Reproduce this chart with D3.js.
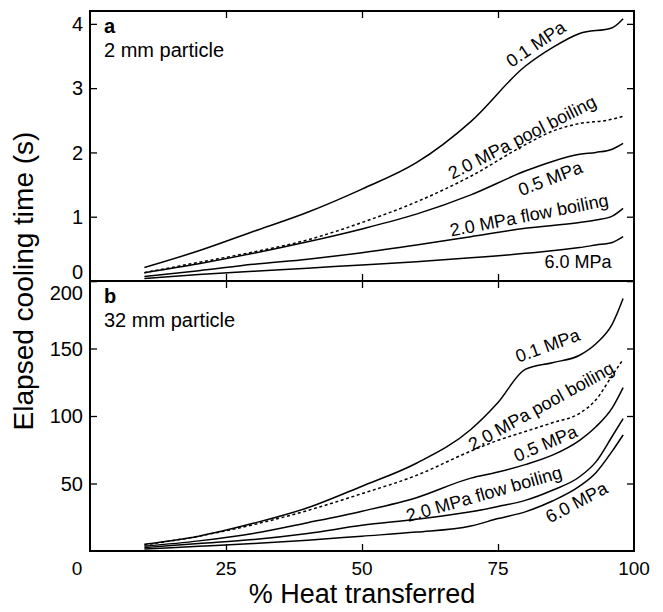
<!DOCTYPE html>
<meta charset="utf-8">
<style>
body { margin: 0; background: #fff; }
svg { font-family: "Liberation Sans", Arial, sans-serif; }
.frame { fill: none; stroke: #000; stroke-width: 2; }
.curve { fill: none; stroke: #000; stroke-width: 1.5; }
</style>
<body>
<script src="https://d3js.org/d3.v7.min.js"></script>
<script>

// ---- data ----
// % heat transferred, elapsed time. panel a in s, panel b in s
var heatTicks = [0, 25, 50, 75, 100];
var aTicks = [0, 1, 2, 3, 4];
var bTicks = [50, 100, 150, 200];   // the 0 is shared with the x axis

// panel a : 2 mm particle
var a01x   = [10, 20, 30, 40, 50, 60, 70, 80, 85, 90, 96, 98];
var a01y   = [0.21, 0.47, 0.77, 1.07, 1.43, 1.84, 2.48, 3.34, 3.63, 3.85, 3.94, 4.08];
var aPoolx = [10, 20, 30, 40, 50, 60, 70, 80, 85, 90, 95, 98];
var aPooly = [0.13, 0.29, 0.45, 0.64, 0.91, 1.23, 1.63, 2.12, 2.33, 2.45, 2.50, 2.56];
var a05x   = [10, 20, 30, 40, 50, 60, 70, 80, 85, 90, 93, 96, 98];
var a05y   = [0.13, 0.27, 0.43, 0.61, 0.81, 1.04, 1.34, 1.71, 1.86, 1.97, 2.00, 2.05, 2.14];
var aFlowx = [10, 20, 30, 40, 50, 60, 70, 80, 90, 93, 96, 98];
var aFlowy = [0.07, 0.16, 0.26, 0.34, 0.44, 0.56, 0.69, 0.82, 0.91, 0.95, 1.01, 1.13];
var a60x   = [10, 20, 30, 40, 50, 60, 70, 80, 90, 93, 96, 98];
var a60y   = [0.04, 0.10, 0.15, 0.20, 0.25, 0.30, 0.36, 0.43, 0.52, 0.56, 0.60, 0.69];

// panel b : 32 mm particle
var bx     = [10, 20, 30, 40, 50, 60, 70, 75, 80, 85, 90, 93, 96, 98];
var b01y   = [5, 11, 20.5, 32, 48, 65, 90, 110, 134.5, 139.5, 145, 153.5, 168, 187];
var bPooly = [4.5, 11, 19.5, 30, 42.5, 56, 74, 82, 88.5, 95, 102, 112, 130, 142];
var b05y   = [3.5, 7.5, 13, 21, 29.5, 39.5, 54, 58.5, 64, 71, 82, 92, 106, 121];
var bFlowy = [2.5, 5.5, 8.5, 13, 19, 23.5, 29, 33, 37.5, 45, 55, 66, 85, 98];
var b60y   = [1.5, 3.5, 5.5, 8, 11, 14, 18.5, 24, 29, 37, 48, 58, 74, 86];

// curve labels: text, heat, time, angle
var aLabels = [
  ["0.1 MPa", 81.9, 3.69, -34],
  ["2.0 MPa pool boiling", 79.4, 2.24, -27],
  ["0.5 MPa", 84.6, 1.60, -21],
  ["2.0 MPa flow boiling", 80.7, 1.03, -11],
  ["6.0 MPa", 89.7, 0.30, 0]
];
var bLabels = [
  ["0.1 MPa", 84.1, 152.4, -20],
  ["2.0 MPa pool boiling", 82.9, 107.6, -29],
  ["0.5 MPa", 83.7, 79.9, -23],
  ["2.0 MPa flow boiling", 72.4, 42.5, -16],
  ["6.0 MPa", 89.4, 36.2, -28]
];

var W = 663, H = 612;
var left = 90, right = 634, aTop = 11, mid = 281, bBot = 551;

var svg = d3.select("body").append("svg")
    .attr("width", W)
    .attr("height", H);

var x = d3.scaleLinear().domain([0, 100]).range([left, right]);
var ya = d3.scaleLinear().domain([0, 4.2]).range([mid, aTop]);
var yb = d3.scaleLinear().domain([0, 200]).range([bBot, mid]);

function zip(xs, ys) { return xs.map(function(d, i) { return [d, ys[i]]; }); }

function panel(y, top, bottom, ticks, series, labels, letter, title) {
  var g = svg.append("g");
  // inward ticks on all four sides
  g.append("g").attr("transform", "translate(0," + bottom + ")")
    .call(d3.axisTop(x).tickValues([25, 50, 75]).tickSize(7).tickFormat(""));
  g.append("g").attr("transform", "translate(0," + top + ")")
    .call(d3.axisBottom(x).tickValues([25, 50, 75]).tickSize(7).tickFormat(""));
  g.append("g").attr("transform", "translate(" + left + ",0)")
    .call(d3.axisRight(y).tickValues(ticks).tickSize(7).tickFormat(""));
  g.append("g").attr("transform", "translate(" + right + ",0)")
    .call(d3.axisLeft(y).tickValues(ticks).tickSize(7).tickFormat(""));
  g.selectAll(".domain").remove();
  g.selectAll(".tick line").attr("stroke", "#000").attr("stroke-width", 1.3);

  // tick labels on the left
  g.selectAll(".ylab").data(ticks).enter().append("text")
    .attr("x", left - 7)
    .attr("y", function(d) { return y(d); })
    .attr("dy", function(d, i) {
      if (d == 0) return "-0.1em";
      if (i == ticks.length - 1 && top > 100) return "0.95em";
      return "0.36em";
    })
    .attr("text-anchor", "end")
    .style("font-size", "20px")
    .text(function(d) { return d; });

  var line = d3.line()
    .x(function(d) { return x(d[0]); })
    .y(function(d) { return y(d[1]); })
    .curve(d3.curveMonotoneX);

  series.forEach(function(s) {
    g.append("path")
      .attr("class", "curve")
      .attr("d", line(zip(s[0], s[1])))
      .attr("stroke-dasharray", s[2] ? "3,2.6" : null);
  });

  labels.forEach(function(l) {
    g.append("text")
      .attr("transform", "translate(" + x(l[1]) + "," + y(l[2]) + ") rotate(" + l[3] + ")")
      .attr("text-anchor", "middle")
      .attr("dy", "0.36em")
      .style("font-size", "18px")
      .text(l[0]);
  });

  g.append("text")
    .attr("x", left + 14).attr("y", top + 22)
    .style("font-size", "20px").style("font-weight", "bold")
    .text(letter);
  g.append("text")
    .attr("x", left + 14).attr("y", top + 46)
    .style("font-size", "20px")
    .text(title);

  g.append("rect")
    .attr("class", "frame")
    .attr("x", left).attr("y", top)
    .attr("width", right - left).attr("height", bottom - top);
}

panel(ya, aTop, mid, aTicks, [
  [a01x, a01y], [aPoolx, aPooly, true], [a05x, a05y], [aFlowx, aFlowy], [a60x, a60y]
], aLabels, "a", "2 mm particle");

panel(yb, mid, bBot, bTicks, [
  [bx, b01y], [bx, bPooly, true], [bx, b05y], [bx, bFlowy], [bx, b60y]
], bLabels, "b", "32 mm particle");

// x tick labels under panel b
svg.selectAll(".xlab").data(heatTicks).enter().append("text")
  .attr("x", function(d) { return x(d); })
  .attr("dx", function(d) { return d == 0 ? -13 : 0; })
  .attr("y", 575)
  .attr("text-anchor", "middle")
  .style("font-size", "19px")
  .text(function(d) { return d; });

// axis titles
svg.append("text")
  .attr("x", x(50)).attr("y", 603)
  .attr("text-anchor", "middle")
  .style("font-size", "27px")
  .text("% Heat transferred");

svg.append("text")
  .attr("transform", "translate(33," + mid + ") rotate(-90)")
  .attr("text-anchor", "middle")
  .style("font-size", "28px")
  .text("Elapsed cooling time (s)");

</script>
</body>
